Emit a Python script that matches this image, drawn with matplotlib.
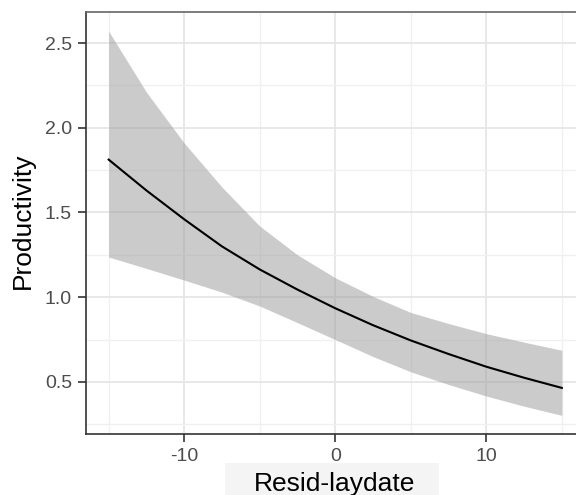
import numpy as np
import matplotlib.pyplot as plt
from matplotlib.patches import Rectangle
from matplotlib.ticker import MultipleLocator

plt.rcParams['font.family'] = ['Liberation Sans', 'DejaVu Sans']

# values
resid_laydate = [-15, -12.5, -10, -7.5, -5, -2.5, 0, 2.5, 5, 7.5, 10, 12.5, 15]
fit = [1.812, 1.63, 1.46, 1.30, 1.164, 1.045, 0.935, 0.835, 0.745, 0.665, 0.59, 0.525, 0.465]
upper = [2.57, 2.21, 1.91, 1.65, 1.42, 1.25, 1.115, 1.005, 0.91, 0.845, 0.785, 0.735, 0.687]
lower = [1.237, 1.17, 1.101, 1.03, 0.948, 0.85, 0.75, 0.65, 0.56, 0.485, 0.417, 0.357, 0.303]

fig = plt.figure(figsize=(5.76, 4.95), dpi=100)
# panel runs past the right edge, as in the reference crop
ax = fig.add_axes([86 / 576, 61 / 495, 498.5 / 576, 422 / 495])

ax.fill_between(resid_laydate, lower, upper, color='#999999', alpha=0.5,
                linewidth=0, zorder=2)
ax.plot(resid_laydate, fit, color='black', linewidth=1.5, zorder=3)

ax.set_xlim(-16.5, 16.5)
ax.set_ylim(0.193, 2.683)
ax.xaxis.set_minor_locator(MultipleLocator(5))
ax.yaxis.set_minor_locator(MultipleLocator(0.25))
ax.set_xticks([-10, 0, 10])
ax.set_xticklabels(['-10', '0', '10'])
ax.set_yticks([0.5, 1.0, 1.5, 2.0, 2.5])
ax.set_yticklabels(['0.5', '1.0', '1.5', '2.0', '2.5'])

ax.grid(which='major', color='#e6e6e6', linewidth=1.3, zorder=0)
ax.grid(which='minor', color='#f0f0f0', linewidth=1.0, zorder=0)
ax.set_axisbelow(True)

for side in ['left', 'bottom']:
    ax.spines[side].set_color('#333333')
    ax.spines[side].set_linewidth(1.2)
ax.spines['top'].set_color('#666666')
ax.spines['top'].set_linewidth(1.2)
ax.spines['right'].set_visible(False)

ax.tick_params(which='major', length=6, width=1.2, color='#333333',
               labelsize=14, labelcolor='#4d4d4d', pad=4)
ax.tick_params(which='minor', length=0)

fig.text(23 / 576, (495 - 220.5) / 495, 'Productivity', fontsize=19,
         rotation=90, ha='center', va='center', color='black')

# light box behind the x-axis title
fig.patches.append(Rectangle((225 / 576, 0), 214 / 576, 32 / 495,
                             transform=fig.transFigure, facecolor='#f4f4f4',
                             edgecolor='none', zorder=0))
fig.text(335 / 576, 4.5 / 495, 'Resid-laydate', fontsize=19, color='black',
         ha='center', va='baseline')

fig.savefig('out.png', dpi=100)
